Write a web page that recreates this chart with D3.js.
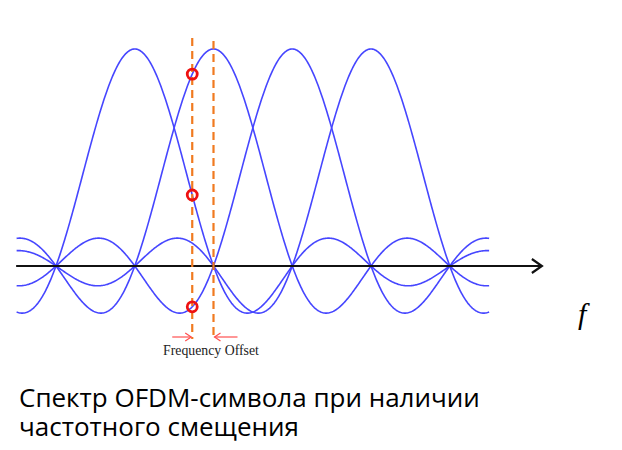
<!DOCTYPE html>
<html><head><meta charset="utf-8">
<script src="https://cdn.jsdelivr.net/npm/d3@7"></script>
<style>body{margin:0;background:#fff}svg{display:block}</style>
</head><body>
<script>
// Subcarrier centres (in subcarrier-spacing units) and their peak amplitudes
const subcarriers = [1, 2, 3, 4];
const amplitudes = [1, 1, 1, 1];
const freqRange = [-0.5, 5.5];      // span of plotted spectrum
const axisRange = [-0.5, 6.17];     // frequency axis extent
const offsetFreq = 1.73;            // receiver sampling frequency (with offset)
const idealFreq = 2;                // ideal sampling frequency
const sampledCarriers = [1, 2, 3];  // carriers marked with red circles
const caption = ["Спектр OFDM-символа при наличии", "частотного смещения"];

const W = 622, H = 450;
const svg = d3.select("body").append("svg").attr("width", W).attr("height", H);
const x = d3.scaleLinear().domain([0, 5]).range([56, 449.75]);
const y = d3.scaleLinear().domain([0, 1]).range([266, 49]);

const sinc = t => t === 0 ? 1 : Math.sin(Math.PI * t) / (Math.PI * t);
const samples = d3.range(freqRange[0], freqRange[1] + 1e-9, 0.01);
const line = d3.line().x(d => x(d[0])).y(d => y(d[1]));

subcarriers.forEach((c, i) => {
  svg.append("path")
    .datum(samples.map(f => [f, amplitudes[i] * sinc(f - c)]))
    .attr("d", line).attr("fill", "none")
    .attr("stroke", "#4646ff").attr("stroke-width", 1.6);
});

// frequency axis with arrow
svg.append("line").attr("x1", x(axisRange[0]) - 0.5).attr("x2", x(axisRange[1]))
  .attr("y1", y(0)).attr("y2", y(0)).attr("stroke", "#111").attr("stroke-width", 2.2);
const ax = x(axisRange[1]);
svg.append("path").attr("d", `M${ax-10},${y(0)-7}L${ax},${y(0)}L${ax-10},${y(0)+7}`)
  .attr("fill", "none").attr("stroke", "#111").attr("stroke-width", 2.2);

// dashed lines
[[offsetFreq, 38], [idealFreq, 41]].forEach(([f, top]) => {
  svg.append("line").attr("x1", x(f)).attr("x2", x(f)).attr("y1", top).attr("y2", 339)
    .attr("stroke", "#f07a20").attr("stroke-width", 2.2).attr("stroke-dasharray", "8,5");
});

// red sample circles
sampledCarriers.forEach(c => {
  svg.append("circle").attr("cx", x(offsetFreq)).attr("cy", y(sinc(offsetFreq - c)))
    .attr("r", 5).attr("fill", "none").attr("stroke", "#ee1111").attr("stroke-width", 2.8);
});

// offset arrows
const ay = 337;
const arrow = (x1, x2) => {
  svg.append("line").attr("x1", x1).attr("x2", x2).attr("y1", ay).attr("y2", ay)
    .attr("stroke", "#ff5050").attr("stroke-width", 1.2);
  const d = x2 > x1 ? -1 : 1;
  svg.append("path").attr("d", `M${x2 + d*6},${ay-4}L${x2},${ay}L${x2 + d*6},${ay+4}`)
    .attr("fill", "none").attr("stroke", "#ff5050").attr("stroke-width", 1.2);
};
arrow(x(offsetFreq) - 20, x(offsetFreq) - 1);
arrow(x(idealFreq) + 24, x(idealFreq) + 1);

svg.append("text").attr("x", 211).attr("y", 355).attr("text-anchor", "middle")
  .attr("font-family", "'Liberation Serif', serif").attr("font-size", 13.8)
  .attr("fill", "#222").text("Frequency Offset");

svg.append("text").attr("x", 578).attr("y", 324)
  .style("font-family", "'Liberation Serif', 'DejaVu Serif', serif").style("font-style", "italic")
  .style("font-size", "30px").attr("fill", "#000").text("f");

caption.forEach((t, i) => {
  svg.append("text").attr("x", 19).attr("y", 407 + i * 29)
    .attr("font-family", "'Open Sans', sans-serif").attr("font-size", 26)
    .attr("fill", "#000").text(t);
});
</script>
</body></html>
